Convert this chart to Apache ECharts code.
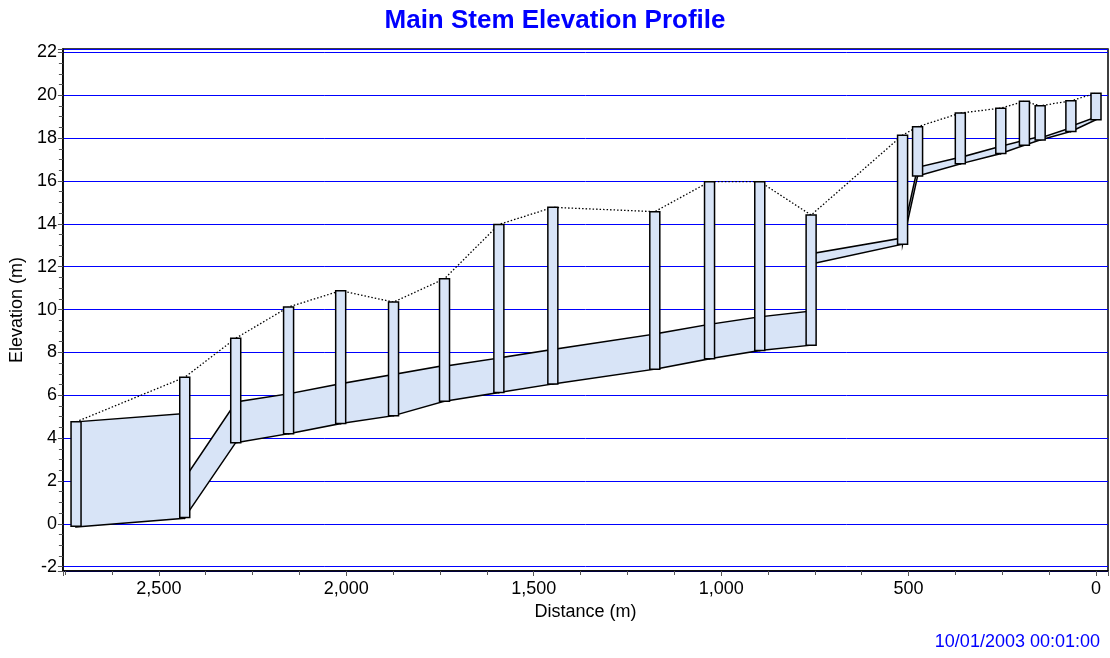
<!DOCTYPE html>
<html>
<head>
<meta charset="utf-8">
<title>Main Stem Elevation Profile</title>
<script src="https://cdn.jsdelivr.net/npm/echarts@6/dist/echarts.min.js"></script>
<style>
  html, body { margin: 0; padding: 0; background: #fff; }
  #chart { width: 1110px; height: 658px; }
</style>
</head>
<body>
<div id="chart"></div>
<script>
// Nodes (manholes): distance from outfall (m), invert and rim elevation (m)
const nodeDist   = [2721, 2431, 2295, 2154, 2015, 1874, 1738, 1593, 1449, 1177, 1031, 897, 760, 516, 476, 362, 254, 191, 149, 67, 0];
const nodeInvert = [-0.11, 0.3, 3.79, 4.21, 4.68, 5.05, 5.72, 6.13, 6.53, 7.22, 7.7, 8.09, 8.34, 13.05, 16.23, 16.8, 17.28, 17.67, 17.91, 18.31, 18.86];
const nodeRim    = [4.76, 6.84, 8.66, 10.12, 10.88, 10.35, 11.44, 13.97, 14.77, 14.57, 15.97, 15.97, 14.41, 18.14, 18.53, 19.17, 19.4, 19.72, 19.51, 19.74, 20.1];

// Conduits between node i and node i+1: bottom and top elevations at each end
const linkBottomUp = [-0.15, 0.3, 3.79, 4.21, 4.68, 5.05, 5.72, 6.13, 6.53, 7.22, 7.7, 8.09, 12.13, 13.05, 16.23, 16.8, 17.28, 17.67, 17.91, 18.31];
const linkBottomDn = [0.26, 3.79, 4.21, 4.68, 5.05, 5.72, 6.13, 6.53, 7.22, 7.7, 8.09, 8.34, 13.05, 16.23, 16.8, 17.28, 17.67, 17.91, 18.31, 18.86];
const linkTopUp    = [4.76, 2.13, 5.69, 6.07, 6.54, 6.97, 7.36, 7.74, 8.14, 8.86, 9.31, 9.66, 12.61, 13.45, 16.64, 17.1, 17.62, 17.9, 18.0, 18.55];
const linkTopDn    = [5.15, 5.66, 6.07, 6.54, 6.97, 7.39, 7.74, 8.14, 8.86, 9.31, 9.66, 9.93, 13.34, 16.63, 17.11, 17.62, 17.9, 18.08, 18.48, 18.98];

const titleText = 'Main Stem Elevation Profile';
const timeStamp = '10/01/2003 00:01:00';

const FONT = '"Liberation Sans", Arial, sans-serif';
const FILL = '#d8e4f7';

const linkData = linkBottomUp.map((b, i) => [
  nodeDist[i], nodeDist[i + 1], b, linkBottomDn[i], linkTopUp[i], linkTopDn[i]
]);
const nodeData = nodeDist.map((d, i) => [d, nodeInvert[i], nodeRim[i]]);
const rimLine = nodeDist.map((d, i) => [d, nodeRim[i]]);

const chart = echarts.init(document.getElementById('chart'));

chart.setOption({
  animation: false,
  backgroundColor: '#fff',
  title: {
    text: titleText,
    left: 'center',
    top: 3,
    textStyle: { color: '#0000ff', fontFamily: FONT, fontSize: 26, fontWeight: 'bold' }
  },
  graphic: [{
    type: 'text',
    right: 10,
    top: 633,
    style: { text: timeStamp, fill: '#0000ff', font: '18px ' + FONT }
  }],
  grid: {
    left: 61, top: 49, width: 1047, height: 522,
    show: true, borderColor: '#000', borderWidth: 1.5
  },
  xAxis: {
    type: 'value',
    position: 'bottom',
    inverse: true,
    min: -32,
    max: 2756,
    splitNumber: 6,
    name: 'Distance (m)',
    nameLocation: 'middle',
    nameGap: 30,
    nameTextStyle: { color: '#000', fontFamily: FONT, fontSize: 18 },
    axisLine: { onZero: false, lineStyle: { color: '#000', width: 1.5 } },
    axisTick: { length: 5, lineStyle: { color: '#555' } },
    minorTick: { show: true, splitNumber: 4, length: 4, lineStyle: { color: '#555' } },
    axisLabel: {
      color: '#000', fontFamily: FONT, fontSize: 18, margin: 9,
      showMinLabel: false, showMaxLabel: false,
      formatter: v => (v % 500 === 0 ? v.toLocaleString('en-US') : '')
    },
    splitLine: { show: false }
  },
  yAxis: {
    type: 'value',
    position: 'left',
    min: -2.2,
    max: 22.16,
    splitNumber: 12,
    name: 'Elevation (m)',
    nameLocation: 'middle',
    nameGap: 36,
    nameTextStyle: { color: '#000', fontFamily: FONT, fontSize: 18 },
    axisLine: { show: true, onZero: false, lineStyle: { color: '#000', width: 1.5 } },
    axisTick: { show: true, length: 5, lineStyle: { color: '#555' } },
    minorTick: { show: true, splitNumber: 4, length: 4, lineStyle: { color: '#555' } },
    axisLabel: {
      color: '#000', fontFamily: FONT, fontSize: 18, margin: 6,
      showMinLabel: false, showMaxLabel: false,
      formatter: v => (Math.abs(v % 2) < 1e-6 ? String(v) : '')
    },
    splitLine: { show: true, lineStyle: { color: '#0000ff', width: 1 } }
  },
  series: [
    {
      name: 'Conduits',
      type: 'custom',
      data: linkData,
      encode: { x: [0, 1], y: [2, 3, 4, 5] },
      z: 2,
      renderItem: (params, api) => {
        const p1 = api.coord([api.value(0), api.value(2)]);
        const p2 = api.coord([api.value(1), api.value(3)]);
        const p3 = api.coord([api.value(1), api.value(5)]);
        const p4 = api.coord([api.value(0), api.value(4)]);
        return {
          type: 'polygon',
          shape: { points: [p1, p2, p3, p4] },
          style: { fill: FILL, stroke: '#000', lineWidth: 1.5 }
        };
      }
    },
    {
      name: 'Ground',
      type: 'line',
      data: rimLine,
      symbol: 'none',
      z: 3,
      lineStyle: { color: '#000', width: 1.3, type: [1.5, 2] }
    },
    {
      name: 'Nodes',
      type: 'custom',
      data: nodeData,
      encode: { x: 0, y: [1, 2] },
      z: 4,
      renderItem: (params, api) => {
        const bottom = api.coord([api.value(0), api.value(1)]);
        const top = api.coord([api.value(0), api.value(2)]);
        return {
          type: 'rect',
          shape: { x: bottom[0] - 5, y: top[1], width: 10, height: bottom[1] - top[1] },
          style: { fill: FILL, stroke: '#000', lineWidth: 1.5 }
        };
      }
    }
  ]
});
</script>
</body>
</html>
